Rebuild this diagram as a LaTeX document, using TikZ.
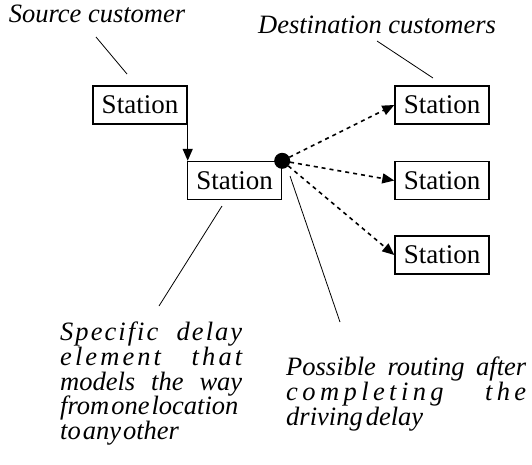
\documentclass[tikz,border=0pt]{standalone}
\usepackage{fontspec}
\setmainfont{Liberation Serif}
\usetikzlibrary{arrows.meta}
% stretchable gaps for the letter-spaced, justified lines
\newcommand\lsp{\hskip 0pt plus 1fil\relax}
\newcommand\wsp{\hskip 6pt plus 8fil\relax}
\newcommand\wsq{\hskip 6pt plus 6fil\relax}
\begin{document}
\begin{tikzpicture}[x=1pt,y=-1pt,
  station/.style={draw, line width=1.4pt, minimum width=94pt, minimum height=38pt,
    inner sep=0pt, font=\fontsize{27}{28}\selectfont},
  note/.style={font=\fontsize{26.5}{24.6}\selectfont\itshape, inner sep=0pt},
  lead/.style={line width=0.8pt},
  flow/.style={line width=1.4pt, -{Triangle[length=12pt,width=10pt]}},
  route/.style={flow, line width=1.6pt, dash pattern=on 4pt off 4pt},
]
\useasboundingbox (0,0) rectangle (532,464);

% stations
\node[station] (src)  at (140,105)   {Station};
\node[station] (mid)  at (234.5,180.5) {Station};
\node[station] (dst1) at (442,105)   {Station};
\node[station] (dst2) at (442,180.5) {Station};
\node[station] (dst3) at (442,255)   {Station};

% routing point
\coordinate (hub) at (mid.north east);
\fill (hub) circle (8pt);

% connectors
\draw[flow] (src.south east) -- (src.south east |- mid.north);
\draw[route] (hub) -- (dst1.west);
\draw[route] (hub) -- (dst2.west);
\draw[route] (hub) -- (dst3.west);

% labels
\node[note, anchor=base] (srclab) at (97,22) {Source customer};
\node[note, anchor=base] (dstlab) at (377,33) {Destination customers};

\node[note, anchor=north west, align=left] (delaylab) at (60,322) {%
  \hbox to 182pt{S\lsp p\lsp e\lsp c\lsp i\lsp f\lsp i\lsp c\wsq d\lsp e\lsp l\lsp a\lsp y}\\
  \hbox to 182pt{e\lsp l\lsp e\lsp m\lsp e\lsp n\lsp t\wsp t\lsp h\lsp a\lsp t}\\
  \hbox to 182pt{models\hfil\ the\hfil\ way}\\
  \hbox{from\hskip 2pt one\hskip 2pt location}\\
  \hbox{to\hskip 2pt any\hskip 2pt other}};

\node[note, anchor=north west, align=left] (routelab) at (286,357) {%
  \hbox to 240pt{Possible\hfil\ routing\hfil\ after}\\
  \hbox to 240pt{c\lsp o\lsp m\lsp p\lsp l\lsp e\lsp t\lsp i\lsp n\lsp g\wsp t\lsp h\lsp e}\\
  \hbox{driving\hskip 3pt delay}};

% leader lines from labels to the diagram
\coordinate (srcA) at (96,37);   \coordinate (srcB) at (127,74);
\coordinate (dstA) at (377,41);  \coordinate (dstB) at (433,78);
\coordinate (delA) at (222,206); \coordinate (delB) at (159,306);
\coordinate (rouA) at (290,176); \coordinate (rouB) at (340,322);
\draw[lead] (srcA) -- (srcB);
\draw[lead] (dstA) -- (dstB);
\draw[lead] (delA) -- (delB);
\draw[lead] (rouA) -- (rouB);
\end{tikzpicture}
\end{document}
